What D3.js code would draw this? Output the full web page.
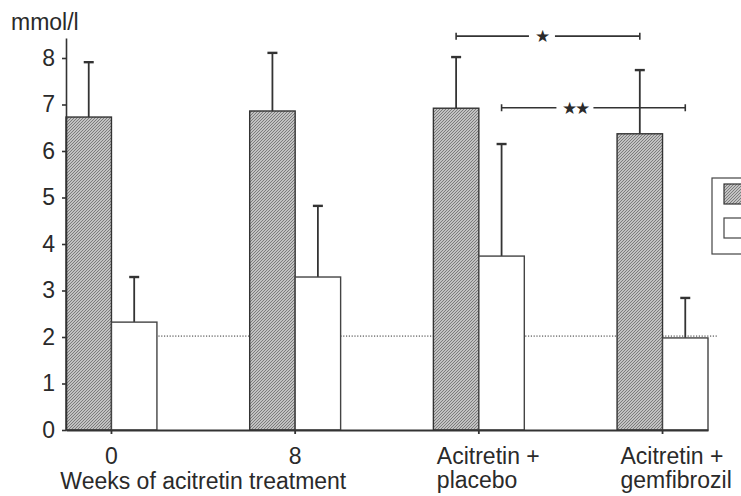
<!DOCTYPE html>
<html>
<head>
<meta charset="utf-8">
<script src="https://cdn.jsdelivr.net/npm/d3@7"></script>
<style>
  body { margin: 0; background: #fff; }
  text { font-family: "Liberation Sans", Arial, sans-serif; fill: #2a2a2a; }
</style>
</head>
<body>
<div id="chart"></div>
<script>
// data (mmol/l)
const categories = ["0", "8", "Acitretin + placebo", "Acitretin + gemfibrozil"];
const labelLines = [["0"], ["8"], ["Acitretin +", "placebo"], ["Acitretin +", "gemfibrozil"]];
const hatchedValues = [6.73, 6.86, 6.92, 6.37];
const hatchedErrors = [1.18, 1.25, 1.10, 1.37];
const whiteValues = [2.32, 3.29, 3.74, 1.98];
const whiteErrors = [0.97, 1.53, 2.41, 0.86];
const yTicks = [0, 1, 2, 3, 4, 5, 6, 7, 8];
const refLine = 2.02;
// significance brackets: from/to category + series, height, label
const brackets = [
  { from: 2, to: 3, series: 0, y: 8.47, label: "★" },
  { from: 2, to: 3, series: 1, y: 6.93, label: "★★" }
];

const width = 741;
const height = 496;

const svg = d3.select("#chart").append("svg")
  .attr("width", width)
  .attr("height", height);

// hatch pattern
const defs = svg.append("defs");
const pat = defs.append("pattern")
  .attr("id", "hatch")
  .attr("patternUnits", "userSpaceOnUse")
  .attr("width", 3)
  .attr("height", 3);
pat.append("rect").attr("width", 3).attr("height", 3).attr("fill", "#c2c2c2");
pat.append("path")
  .attr("d", "M-1,1 l2,-2 M0,3 l3,-3 M2,4 l2,-2")
  .attr("stroke", "#747474")
  .attr("stroke-width", 0.9);

const x = d3.scaleBand().domain(categories).range([66, 708]).paddingInner(0.505).paddingOuter(0);
const xSub = d3.scaleBand().domain([0, 1]).range([0, x.bandwidth()]);
const y = d3.scaleLinear().domain([0, 8.43]).range([430, 38]);

// reference line
svg.append("line")
  .attr("x1", 66).attr("x2", 717)
  .attr("y1", y(refLine)).attr("y2", y(refLine))
  .attr("stroke", "#333")
  .attr("stroke-width", 1)
  .attr("stroke-dasharray", "1.2,1.6");

// bars
const series = [
  { values: hatchedValues, errors: hatchedErrors, fill: "url(#hatch)", stroke: "#333" },
  { values: whiteValues, errors: whiteErrors, fill: "#fff", stroke: "#444" }
];

series.forEach((s, si) => {
  const g = svg.append("g");
  const cx = (i) => x(categories[i]) + xSub(si) + xSub.bandwidth() / 2;
  g.selectAll("line.err")
    .data(s.values)
    .enter()
    .append("line")
    .attr("class", "err")
    .attr("x1", (d, i) => cx(i))
    .attr("x2", (d, i) => cx(i))
    .attr("y1", (d) => y(d))
    .attr("y2", (d, i) => y(d + s.errors[i]))
    .attr("stroke", "#333")
    .attr("stroke-width", 1.8);
  g.selectAll("line.cap")
    .data(s.values)
    .enter()
    .append("line")
    .attr("class", "cap")
    .attr("x1", (d, i) => cx(i) - 5)
    .attr("x2", (d, i) => cx(i) + 5)
    .attr("y1", (d, i) => y(d + s.errors[i]))
    .attr("y2", (d, i) => y(d + s.errors[i]))
    .attr("stroke", "#333")
    .attr("stroke-width", 2.4);
  g.selectAll("rect")
    .data(s.values)
    .enter()
    .append("rect")
    .attr("x", (d, i) => x(categories[i]) + xSub(si))
    .attr("y", (d) => y(d))
    .attr("width", xSub.bandwidth())
    .attr("height", (d) => y(0) - y(d))
    .attr("fill", s.fill)
    .attr("stroke", s.stroke)
    .attr("stroke-width", 1.4);
});

// axes
const yAxis = d3.axisLeft(y).tickValues(yTicks).tickSize(4).tickPadding(7).tickSizeOuter(0);
const gy = svg.append("g").attr("transform", "translate(66,0)").call(yAxis);
gy.selectAll("text").attr("font-size", 23).attr("font-family", "Liberation Sans, Arial, sans-serif").attr("fill", "#2a2a2a");
gy.selectAll("line, path").attr("stroke", "#333").attr("stroke-width", 1.6);

const xAxis = d3.axisBottom(x).tickSize(4).tickFormat("").tickSizeOuter(0);
const gx = svg.append("g").attr("transform", "translate(0,430)").call(xAxis);
gx.selectAll("line, path").attr("stroke", "#333").attr("stroke-width", 1.8);

// category labels
categories.forEach((c, i) => {
  const cx = x(c) + x.bandwidth() / 2;
  const lines = labelLines[i];
  const lx = lines.length > 1 ? cx - 42 : cx;
  const t = svg.append("text")
    .attr("font-size", 23)
    .attr("text-anchor", lines.length > 1 ? "start" : "middle")
    .attr("x", lx)
    .attr("y", 464);
  lines.forEach((l, li) => {
    t.append("tspan")
      .attr("x", lx)
      .attr("dy", li === 0 ? 0 : 24)
      .text(l);
  });
});

svg.append("text")
  .attr("x", (x(categories[0]) + x(categories[1]) + x.bandwidth()) / 2)
  .attr("y", 489)
  .attr("text-anchor", "middle")
  .attr("font-size", 23)
  .text("Weeks of acitretin treatment");

svg.append("text")
  .attr("x", 11)
  .attr("y", 30)
  .attr("font-size", 23)
  .text("mmol/l");

// significance brackets (label sits left of centre, as drawn)
const gaps = [[19, 7], [37, 0]];
brackets.forEach((b, bi) => {
  const x1 = x(categories[b.from]) + xSub(b.series) + xSub.bandwidth() / 2;
  const x2 = x(categories[b.to]) + xSub(b.series) + xSub.bandwidth() / 2;
  const mid = (x1 + x2) / 2;
  const [gl, gr] = gaps[bi];
  const yy = y(b.y);
  const g = svg.append("g").attr("stroke", "#333").attr("stroke-width", 1.6);
  g.append("line").attr("x1", x1).attr("x2", mid - gl).attr("y1", yy).attr("y2", yy);
  g.append("line").attr("x1", mid + gr).attr("x2", x2).attr("y1", yy).attr("y2", yy);
  g.append("line").attr("x1", x1).attr("x2", x1).attr("y1", yy - 3.5).attr("y2", yy + 3.5);
  g.append("line").attr("x1", x2).attr("x2", x2).attr("y1", yy - 3.5).attr("y2", yy + 3.5);
  svg.append("text")
    .attr("x", mid + (gr - gl) / 2)
    .attr("y", yy + 6)
    .attr("text-anchor", "middle")
    .attr("font-family", "DejaVu Sans, sans-serif")
    .attr("font-size", 17)
    .attr("letter-spacing", -2)
    .attr("fill", "#333")
    .text(b.label);
});

// legend (cut off at the right edge, as in the figure)
const legend = svg.append("g");
legend.append("rect")
  .attr("x", 712).attr("y", 178).attr("width", 60).attr("height", 76)
  .attr("fill", "#fff").attr("stroke", "#444").attr("stroke-width", 1.2);
legend.selectAll("rect.sw")
  .data(series)
  .enter()
  .append("rect")
  .attr("class", "sw")
  .attr("x", 724)
  .attr("y", (d, i) => 184 + i * 34)
  .attr("width", 40)
  .attr("height", 20)
  .attr("fill", (d) => d.fill)
  .attr("stroke", (d) => d.stroke)
  .attr("stroke-width", 1.2);
</script>
</body>
</html>
